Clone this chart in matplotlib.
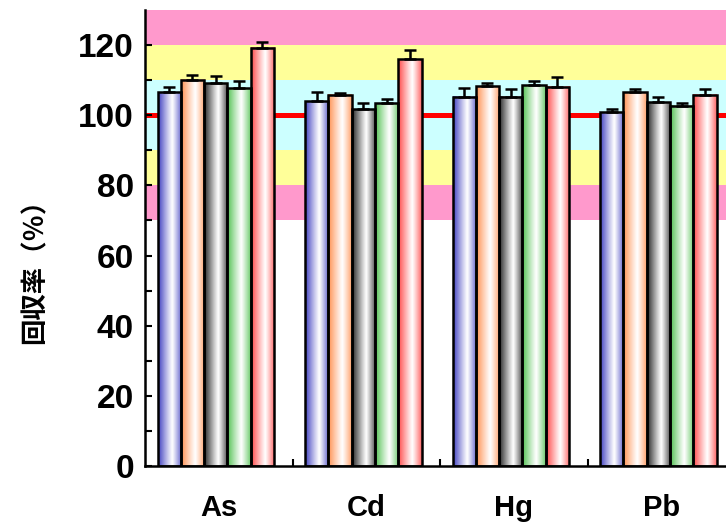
import matplotlib
matplotlib.use('Agg')
import matplotlib.pyplot as plt
import numpy as np
from matplotlib.colors import to_rgb

# ── Data ───────────────────────────────────────────────────────────────
elements = ['As', 'Cd', 'Hg', 'Pb']
recovery = [
    [106.5, 104.0, 105.3, 100.8],  # blue
    [110.1, 105.8, 108.2, 106.6],  # orange
    [109.1, 101.7, 105.3, 103.7],  # gray
    [107.7, 103.4, 108.5, 102.7],  # green
    [119.2, 115.9, 108.1, 105.8],  # red
]
errors = [
    [1.6, 2.6, 2.5, 0.9],
    [1.4, 0.5, 0.9, 0.9],
    [2.0, 1.8, 2.1, 1.6],
    [2.1, 1.2, 1.2, 0.7],
    [1.6, 2.7, 2.7, 1.7],
]
bands = [  # (low, high, colour)
    (70, 80, '#FF99CC'),
    (80, 90, '#FFFF99'),
    (90, 110, '#CCFFFF'),
    (110, 120, '#FFFF99'),
    (120, 130, '#FF99CC'),
]
yticks = [0, 20, 40, 60, 80, 100, 120]

# ── Style ──────────────────────────────────────────────────────────────
EDGE_COLORS = ['#4040C0', '#FF9050', '#262626', '#50C050', '#FF4848']
BAR_W = 0.158
LATIN = ['Liberation Sans Narrow', 'Liberation Sans', 'DejaVu Sans']
CJK = ['Noto Sans CJK JP', 'DejaVu Sans']


def gradient_row(color, n=64):
    """Cylinder shading: dark left edge, white near 60 %, lighter right edge."""
    t = np.linspace(0, 1, n)
    w = np.where(t < 0.6, (0.6 - t) / 0.6, (t - 0.6) / 0.4 * 0.85)
    w = np.clip(w, 0, 1) ** 1.1
    c = np.array(to_rgb(color))
    row = (1 - w[:, None]) * 1.0 + w[:, None] * c[None, :]
    return row[None, :, :]


fig = plt.figure(figsize=(7.26, 5.26), dpi=100)
ax = fig.add_axes([145 / 726, 1 - 466 / 526, 590 / 726, 456 / 526])

for lo, hi, col in bands:
    ax.axhspan(lo, hi, color=col, lw=0, zorder=0)
ax.axhline(100, color='#FF0000', lw=3.6, zorder=1)

x = np.arange(len(elements))
n = len(recovery)
for i, (vals, errs) in enumerate(zip(recovery, errors)):
    pos = x - 0.02 + (i - (n - 1) / 2) * BAR_W
    bars = ax.bar(pos, vals, width=BAR_W, facecolor='none', edgecolor='black',
                  lw=1.8, zorder=3)
    img = gradient_row(EDGE_COLORS[i])
    for b in bars:
        x0, w, h = b.get_x(), b.get_width(), b.get_height()
        ax.imshow(img, extent=[x0, x0 + w, 0, h], aspect='auto',
                  interpolation='bilinear', zorder=2)
    ax.errorbar(pos, vals, yerr=[np.zeros(len(errs)), errs], fmt='none',
                ecolor='black', elinewidth=1.8, capsize=4.5, capthick=1.8,
                zorder=4)

ax.set_xlim(-0.5, 3.5)
ax.set_ylim(0, 130)

for side in ('top', 'right'):
    ax.spines[side].set_visible(False)
for side in ('left', 'bottom'):
    ax.spines[side].set_linewidth(1.8)
    ax.spines[side].set_zorder(5)

ax.set_yticks(yticks)
ax.set_yticks(np.arange(10, 130, 20), minor=True)
ax.set_yticklabels([str(v) for v in yticks], fontsize=24, fontweight='bold',
                   family=LATIN)
ax.tick_params(axis='y', which='both', direction='in', length=5, width=1.5,
               pad=8)

ax.set_xticks(x + 0.5)
ax.set_xticklabels([])
ax.tick_params(axis='x', direction='in', length=5, width=1.5)
for xi, name in zip(x, elements):
    ax.text(xi, -12, name, ha='center', va='center', fontsize=21,
            fontweight='bold', family=LATIN)

fig.text(35 / 726, 1 - 265 / 526, '回収率（％）', rotation=90, ha='center',
         va='center', fontsize=19, fontweight='bold', family=CJK)

fig.savefig('out.png', dpi=100)
